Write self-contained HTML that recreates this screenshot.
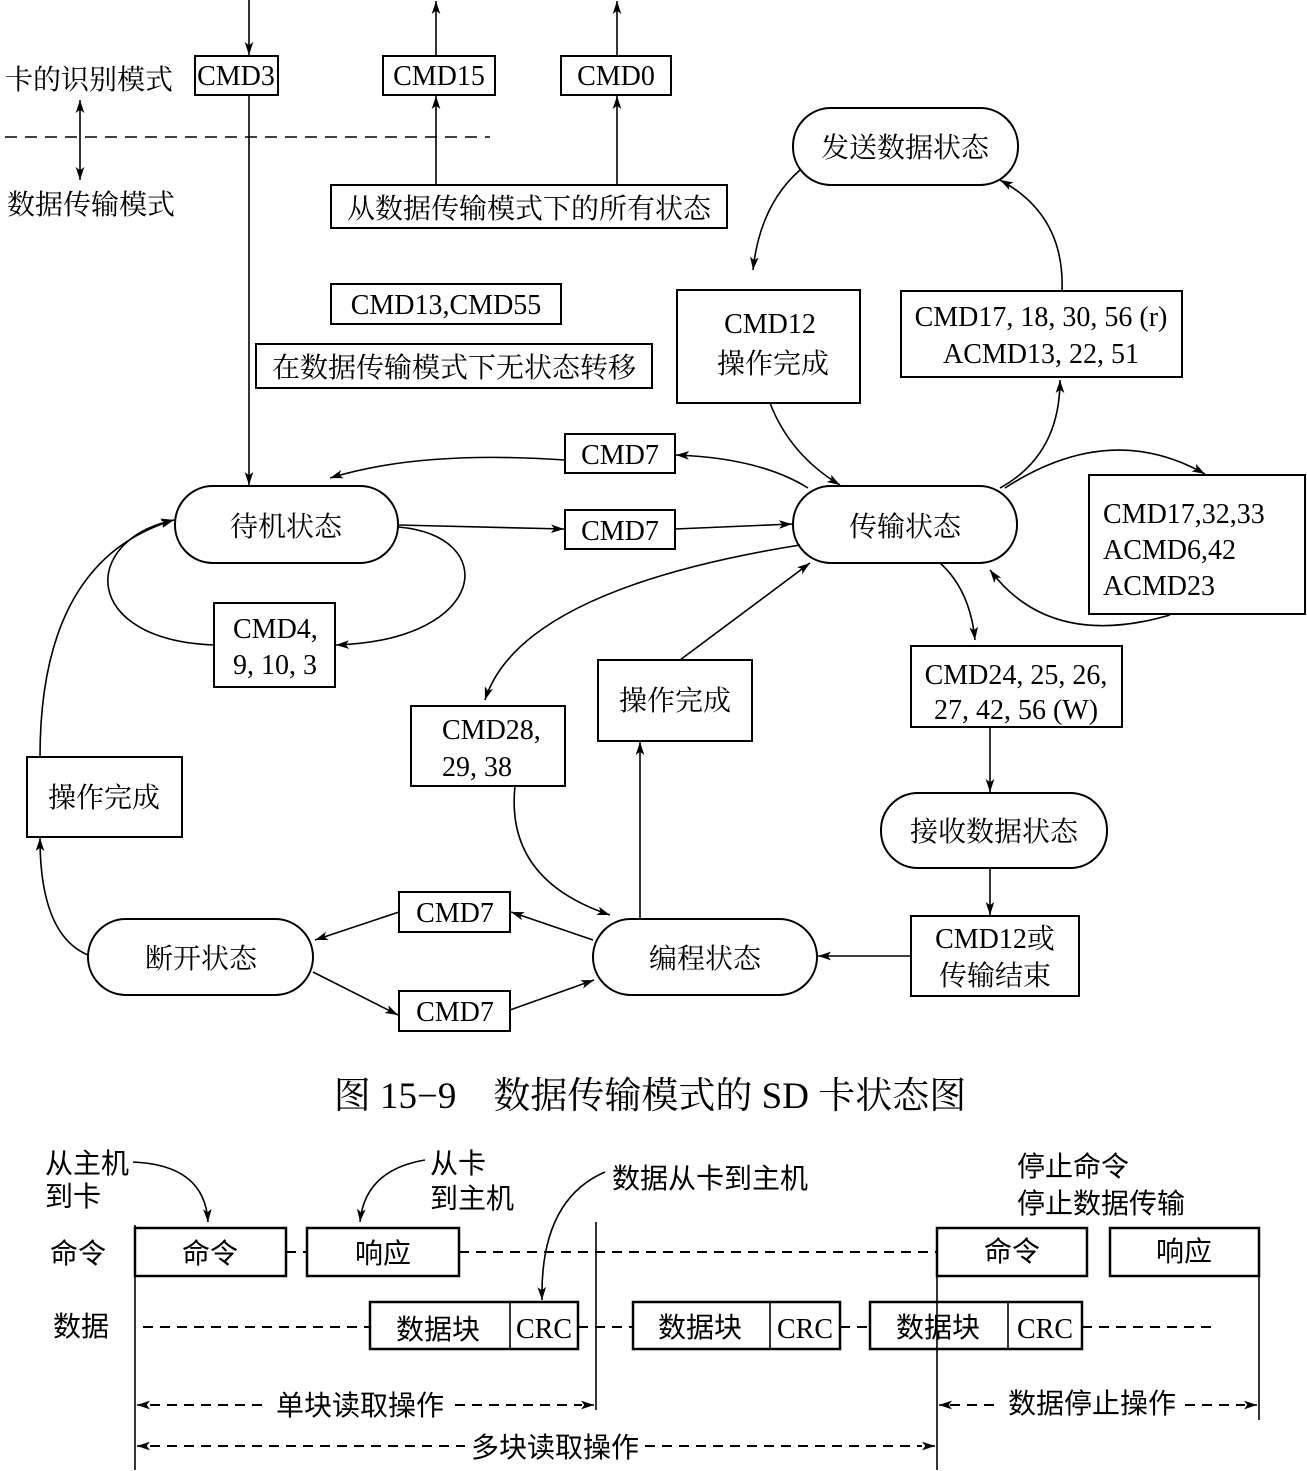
<!DOCTYPE html>
<html><head><meta charset="utf-8"><style>
html,body{margin:0;padding:0;background:#fff}
svg{display:block}
text{font-family:"Liberation Serif","Noto Serif CJK SC","Noto Sans CJK SC",serif;fill:#000}
.c{font-family:"Liberation Sans","Noto Sans CJK SC",sans-serif}
</style></head><body>
<svg width="1307" height="1471" viewBox="0 0 1307 1471" xmlns="http://www.w3.org/2000/svg">
<defs>
<marker id="a" viewBox="0 0 12 8" refX="12" refY="4" markerWidth="13" markerHeight="9" markerUnits="userSpaceOnUse" orient="auto"><path d="M0,0 L12,4 L0,8 L3,4 z" fill="#000"/></marker>
<marker id="s" viewBox="0 0 12 8" refX="0" refY="4" markerWidth="13" markerHeight="9" markerUnits="userSpaceOnUse" orient="auto"><path d="M12,0 L0,4 L12,8 L9,4 z" fill="#000"/></marker>
</defs>
<g fill="none" stroke="#000" stroke-width="2">
<rect x="195" y="56" width="83" height="39"/>
<rect x="383" y="56" width="112" height="39"/>
<rect x="561" y="56" width="110" height="39"/>
<rect x="331" y="185" width="396" height="43"/>
<rect x="331" y="284" width="230" height="40"/>
<rect x="256" y="344" width="396" height="44"/>
<rect x="677" y="290" width="183" height="113"/>
<rect x="901" y="291" width="281" height="86"/>
<rect x="565" y="434" width="110" height="39"/>
<rect x="565" y="510" width="110" height="39"/>
<rect x="214" y="603" width="121" height="84"/>
<rect x="1089" y="475" width="216" height="139"/>
<rect x="598" y="660" width="154" height="81"/>
<rect x="411" y="706" width="154" height="80"/>
<rect x="911" y="646" width="211" height="81"/>
<rect x="27" y="757" width="155" height="80"/>
<rect x="911" y="916" width="168" height="80"/>
<rect x="399" y="892" width="111" height="40"/>
<rect x="399" y="991" width="111" height="40"/>
<rect x="793" y="108" width="225" height="77" rx="38"/>
<rect x="175" y="486" width="223" height="77" rx="38"/>
<rect x="793" y="486" width="224" height="77" rx="38"/>
<rect x="881" y="793" width="226" height="75" rx="37"/>
<rect x="88" y="919" width="225" height="76" rx="38"/>
<rect x="593" y="919" width="224" height="76" rx="38"/>
</g>
<g fill="none" stroke="#000" stroke-width="1.6">
<line x1="249" y1="0" x2="249" y2="55" marker-end="url(#a)"/>
<line x1="249" y1="95" x2="249" y2="485" marker-end="url(#a)"/>
<line x1="436" y1="56" x2="436" y2="1" marker-end="url(#a)"/>
<line x1="436" y1="185" x2="436" y2="96" marker-end="url(#a)"/>
<line x1="617" y1="56" x2="617" y2="1" marker-end="url(#a)"/>
<line x1="617" y1="185" x2="617" y2="96" marker-end="url(#a)"/>
<line x1="80" y1="100" x2="80" y2="180" marker-start="url(#s)" marker-end="url(#a)"/>
<line x1="5" y1="137" x2="490" y2="137" stroke-dasharray="12,8"/>
<line x1="398" y1="525" x2="564" y2="529" marker-end="url(#a)"/>
<line x1="675" y1="529" x2="792" y2="524" marker-end="url(#a)"/>
<path d="M808,488 Q760,458 676,455" marker-end="url(#a)"/>
<path d="M565,460 Q420,450 330,478" marker-end="url(#a)"/>
<path d="M398,527 C500,535 490,640 336,645" marker-end="url(#a)"/>
<path d="M214,645 C80,640 80,540 174,520" marker-end="url(#a)"/>
<path d="M800,170 Q760,205 753,270" marker-end="url(#a)"/>
<path d="M770,403 Q790,455 840,485" marker-end="url(#a)"/>
<path d="M1000,488 Q1060,455 1060,380" marker-end="url(#a)"/>
<path d="M1062,291 Q1065,215 1000,180" marker-end="url(#a)"/>
<path d="M1005,488 Q1110,420 1205,474" marker-end="url(#a)"/>
<path d="M1170,615 Q1050,650 990,570" marker-end="url(#a)"/>
<path d="M940,563 Q970,590 975,640" marker-end="url(#a)"/>
<line x1="990" y1="727" x2="990" y2="792" marker-end="url(#a)"/>
<line x1="990" y1="868" x2="990" y2="915" marker-end="url(#a)"/>
<line x1="911" y1="956" x2="818" y2="956" marker-end="url(#a)"/>
<path d="M800,545 Q520,590 485,700" marker-end="url(#a)"/>
<path d="M515,786 Q505,880 610,915" marker-end="url(#a)"/>
<line x1="640" y1="919" x2="640" y2="742" marker-end="url(#a)"/>
<line x1="680" y1="660" x2="810" y2="563" marker-end="url(#a)"/>
<line x1="593" y1="940" x2="511" y2="912" marker-end="url(#a)"/>
<line x1="399" y1="912" x2="315" y2="940" marker-end="url(#a)"/>
<line x1="313" y1="972" x2="398" y2="1015" marker-end="url(#a)"/>
<line x1="510" y1="1010" x2="594" y2="980" marker-end="url(#a)"/>
<path d="M88,955 Q40,935 40,838" marker-end="url(#a)"/>
<path d="M40,757 Q40,560 174,520" marker-end="url(#a)"/>
</g>
<g font-size="28">
<text x="5" y="89">卡的识别模式</text>
<text x="7" y="214">数据传输模式</text>
<text x="236" y="85" text-anchor="middle">CMD3</text>
<text x="439" y="85" text-anchor="middle">CMD15</text>
<text x="616" y="85" text-anchor="middle">CMD0</text>
<text x="529" y="218" text-anchor="middle">从数据传输模式下的所有状态</text>
<text x="446" y="314" text-anchor="middle">CMD13,CMD55</text>
<text x="454" y="377" text-anchor="middle">在数据传输模式下无状态转移</text>
<text x="905" y="157" text-anchor="middle">发送数据状态</text>
<text x="770" y="333" text-anchor="middle">CMD12</text>
<text x="773" y="373" text-anchor="middle">操作完成</text>
<text x="1041" y="326" text-anchor="middle">CMD17, 18, 30, 56 (r)</text>
<text x="1041" y="363" text-anchor="middle">ACMD13, 22, 51</text>
<text x="620" y="464" text-anchor="middle">CMD7</text>
<text x="620" y="540" text-anchor="middle">CMD7</text>
<text x="286" y="536" text-anchor="middle">待机状态</text>
<text x="905" y="536" text-anchor="middle">传输状态</text>
<text x="233" y="638">CMD4,</text>
<text x="233" y="674">9, 10, 3</text>
<text x="1103" y="523">CMD17,32,33</text>
<text x="1103" y="559">ACMD6,42</text>
<text x="1103" y="595">ACMD23</text>
<text x="675" y="710" text-anchor="middle">操作完成</text>
<text x="442" y="739">CMD28,</text>
<text x="442" y="776">29, 38</text>
<text x="1016" y="684" text-anchor="middle">CMD24, 25, 26,</text>
<text x="1016" y="719" text-anchor="middle">27, 42, 56 (W)</text>
<text x="994" y="841" text-anchor="middle">接收数据状态</text>
<text x="104" y="807" text-anchor="middle">操作完成</text>
<text x="995" y="948" text-anchor="middle">CMD12或</text>
<text x="995" y="985" text-anchor="middle">传输结束</text>
<text x="455" y="922" text-anchor="middle">CMD7</text>
<text x="455" y="1021" text-anchor="middle">CMD7</text>
<text x="201" y="968" text-anchor="middle">断开状态</text>
<text x="705" y="968" text-anchor="middle">编程状态</text>
</g>
<text x="650" y="1108" font-size="37" text-anchor="middle">图 15−9　数据传输模式的 SD 卡状态图</text>
<g fill="none" stroke="#000">
<g stroke-width="1.6">
<line x1="135" y1="1225" x2="135" y2="1470"/>
<line x1="596" y1="1222" x2="596" y2="1410"/>
<line x1="937" y1="1228" x2="937" y2="1470"/>
<line x1="1259" y1="1228" x2="1259" y2="1420"/>
</g>
<g stroke-width="2.5">
<rect x="135" y="1228" width="151" height="48"/>
<rect x="307" y="1228" width="152" height="48"/>
<rect x="937" y="1228" width="150" height="48"/>
<rect x="1110" y="1228" width="149" height="48"/>
<rect x="370" y="1302" width="208" height="47"/><line x1="510" y1="1302" x2="510" y2="1349" stroke-width="1.6"/>
<rect x="633" y="1302" width="207" height="47"/><line x1="770" y1="1302" x2="770" y2="1349" stroke-width="1.6"/>
<rect x="870" y="1302" width="212" height="47"/><line x1="1008" y1="1302" x2="1008" y2="1349" stroke-width="1.6"/>
</g>
<g stroke-width="2" stroke-dasharray="10,7">
<line x1="286" y1="1252" x2="307" y2="1252"/>
<line x1="459" y1="1252" x2="937" y2="1252"/>
<line x1="143" y1="1327" x2="370" y2="1327"/>
<line x1="578" y1="1327" x2="633" y2="1327"/>
<line x1="840" y1="1327" x2="870" y2="1327"/>
<line x1="1082" y1="1327" x2="1215" y2="1327"/>
<line x1="150" y1="1405" x2="265" y2="1405"/>
<line x1="455" y1="1405" x2="582" y2="1405"/>
<line x1="950" y1="1405" x2="1000" y2="1405"/>
<line x1="1185" y1="1405" x2="1245" y2="1405"/>
<line x1="150" y1="1446" x2="465" y2="1446"/>
<line x1="645" y1="1446" x2="922" y2="1446"/>
</g>
<g stroke-width="1.6">
<line x1="145" y1="1405" x2="137" y2="1405" marker-end="url(#a)"/>
<line x1="585" y1="1405" x2="594" y2="1405" marker-end="url(#a)"/>
<line x1="947" y1="1405" x2="939" y2="1405" marker-end="url(#a)"/>
<line x1="1248" y1="1405" x2="1257" y2="1405" marker-end="url(#a)"/>
<line x1="145" y1="1446" x2="137" y2="1446" marker-end="url(#a)"/>
<line x1="925" y1="1446" x2="935" y2="1446" marker-end="url(#a)"/>
<path d="M133,1162 Q205,1165 208,1222" marker-end="url(#a)"/>
<path d="M425,1160 Q365,1170 360,1222" marker-end="url(#a)"/>
<path d="M605,1172 Q540,1200 542,1300" marker-end="url(#a)"/>
</g>
</g>
<g font-size="28" class="c">
<text x="45" y="1173" class="c">从主机</text>
<text x="45" y="1206" class="c">到卡</text>
<text x="430" y="1173" class="c">从卡</text>
<text x="430" y="1208" class="c">到主机</text>
<text x="612" y="1188" class="c">数据从卡到主机</text>
<text x="1017" y="1176" class="c">停止命令</text>
<text x="1017" y="1213" class="c">停止数据传输</text>
<text x="50" y="1263" class="c">命令</text>
<text x="53" y="1336" class="c">数据</text>
<text x="210" y="1263" text-anchor="middle" class="c">命令</text>
<text x="383" y="1263" text-anchor="middle" class="c">响应</text>
<text x="1012" y="1261" text-anchor="middle" class="c">命令</text>
<text x="1184" y="1261" text-anchor="middle" class="c">响应</text>
<text x="438" y="1339" text-anchor="middle" class="c">数据块</text>
<text x="700" y="1337" text-anchor="middle" class="c">数据块</text>
<text x="938" y="1337" text-anchor="middle" class="c">数据块</text>
<text x="360" y="1415" text-anchor="middle" class="c">单块读取操作</text>
<text x="1092" y="1413" text-anchor="middle" class="c">数据停止操作</text>
<text x="555" y="1457" text-anchor="middle" class="c">多块读取操作</text>
</g>
<g font-size="28">
<text x="544" y="1338" text-anchor="middle">CRC</text>
<text x="805" y="1338" text-anchor="middle">CRC</text>
<text x="1045" y="1338" text-anchor="middle">CRC</text>
</g>
</svg>
</body></html>
